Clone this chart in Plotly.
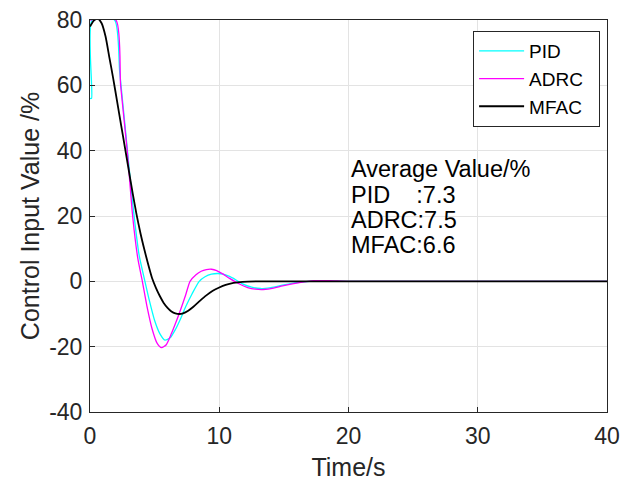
import plotly.graph_objects as go

# ---- data ----
pid_t = [0, 0.12, 0.16, 1.9, 2.3, 2.8, 3.3, 3.8, 4.25, 4.6, 5.0, 5.4, 5.8, 6.2, 6.6, 7.0,
         7.4, 7.9, 8.45, 8.9, 9.4, 9.9, 10.3, 10.8, 11.3, 11.8, 12.5, 13.2, 14.0, 15.0,
         16.0, 17.0, 18.0, 20, 25, 40]
pid_v = [56, 56, 80, 80, 64, 44, 24, 8, 0, -6, -12, -16, -18, -17.3, -14.8, -11.5,
         -7.8, -3.8, 0, 1.4, 2.2, 2.4, 2.2, 1.5, 0.4, -0.8, -1.8, -2.2, -1.9, -1.1,
         -0.4, 0, 0.1, 0, 0, 0]

adrc_t = [0, 2.0, 2.37, 2.88, 3.3, 3.7, 4.05, 4.4, 4.8, 5.2, 5.54, 5.9, 6.3, 6.7, 7.0,
          7.4, 7.74, 8.2, 8.6, 9.0, 9.4, 9.8, 10.3, 10.8, 11.6, 12.2, 12.8, 13.4, 14.2,
          14.9, 16.2, 17.3, 18.5, 20, 25, 40]
adrc_v = [80, 80, 60, 40, 20, 7, 0, -7.5, -14.5, -19, -20.3, -19.4, -16, -12, -8.8,
          -4.2, 0, 2.0, 3.1, 3.6, 3.7, 3.3, 2.2, 0.9, -0.9, -1.9, -2.4, -2.5, -2.1,
          -1.4, -0.4, 0.2, 0.2, 0, 0, 0]

mfac_t = [0, 0.3, 0.6, 0.9, 1.2, 1.5, 1.8, 2.1, 2.4, 2.7, 3.0, 3.3, 3.6, 3.9, 4.2,
          4.5, 4.8, 5.1, 5.4, 5.7, 6.0, 6.3, 6.6, 6.9, 7.2, 7.6, 8.0, 8.5, 9.0, 9.5,
          10.0, 10.5, 11.1, 11.8, 13, 20, 40]
mfac_v = [78, 79.8, 80.4, 79, 75, 68.5, 62, 55, 48, 41, 34, 27, 20.5, 14.8, 9.8,
          5.2, 1.0, -2.0, -4.5, -6.6, -8.1, -9.2, -9.8, -10, -9.8, -9.0, -7.8, -6.0, -4.3,
          -2.9, -1.9, -1.1, -0.5, -0.15, 0, 0, 0]

series = [("PID", pid_t, pid_v, "#00ffff", 1.3),
          ("ADRC", adrc_t, adrc_v, "#ff00ff", 1.3),
          ("MFAC", mfac_t, mfac_v, "#000000", 1.8)]

avg_lines = ["Average Value/%", "PID\u00a0\u00a0\u00a0\u00a0:7.3", "ADRC:7.5", "MFAC:6.6"]
avg_y = [34.3, 26.5, 18.9, 11.2]

x_ticks = [0, 10, 20, 30, 40]
x_labels = ["0", "10", "20", "30", "40"]
y_ticks = [-40, -20, 0, 20, 40, 60, 80]
y_labels = ["-40", "-20", "0", "20", "40", "60", "80"]

FONT = "Liberation Sans, Arial, Helvetica, sans-serif"
AX = "#262626"
PAD = "\u00a0\u00a0"

fig = go.Figure()
for name, t, v, c, w in series:
    fig.add_trace(go.Scatter(x=t, y=v, mode="lines", name=name + PAD,
                             line=dict(color=c, width=w, shape="spline", smoothing=0.6)))

for txt, yy in zip(avg_lines, avg_y):
    fig.add_annotation(x=20, y=yy, xref="x", yref="y", xanchor="left", yanchor="middle",
                       align="left", showarrow=False, text=txt,
                       font=dict(family=FONT, size=23.5, color="#000000"))

axis_common = dict(showline=True, linecolor=AX, linewidth=1, mirror=True,
                   ticks="inside", ticklen=5, tickcolor=AX,
                   showgrid=True, gridcolor="#e3e3e3", gridwidth=1,
                   zeroline=False, automargin=False,
                   tickfont=dict(family=FONT, size=23, color=AX))

fig.update_xaxes(range=[0, 40], tickvals=x_ticks, ticktext=x_labels, ticklabelstandoff=3,
                 title=dict(text="Time/s", font=dict(family=FONT, size=25, color=AX), standoff=10),
                 **axis_common)
fig.update_yaxes(range=[-40, 80], tickvals=y_ticks, ticktext=y_labels, ticklabelstandoff=2,
                 title=dict(text="Control Input Value /%", font=dict(family=FONT, size=25, color=AX),
                            standoff=2),
                 **axis_common)

fig.update_layout(width=635, height=481, plot_bgcolor="white", paper_bgcolor="white",
                  margin=dict(l=90, r=28, t=20, b=69, autoexpand=False),
                  legend=dict(x=0.741, y=0.972, xanchor="left", yanchor="top",
                              bgcolor="white", bordercolor=AX, borderwidth=1,
                              font=dict(family=FONT, size=19, color="#000000"),
                              itemwidth=45, tracegroupgap=0),
                  showlegend=True)

fig.write_html("out.html")
